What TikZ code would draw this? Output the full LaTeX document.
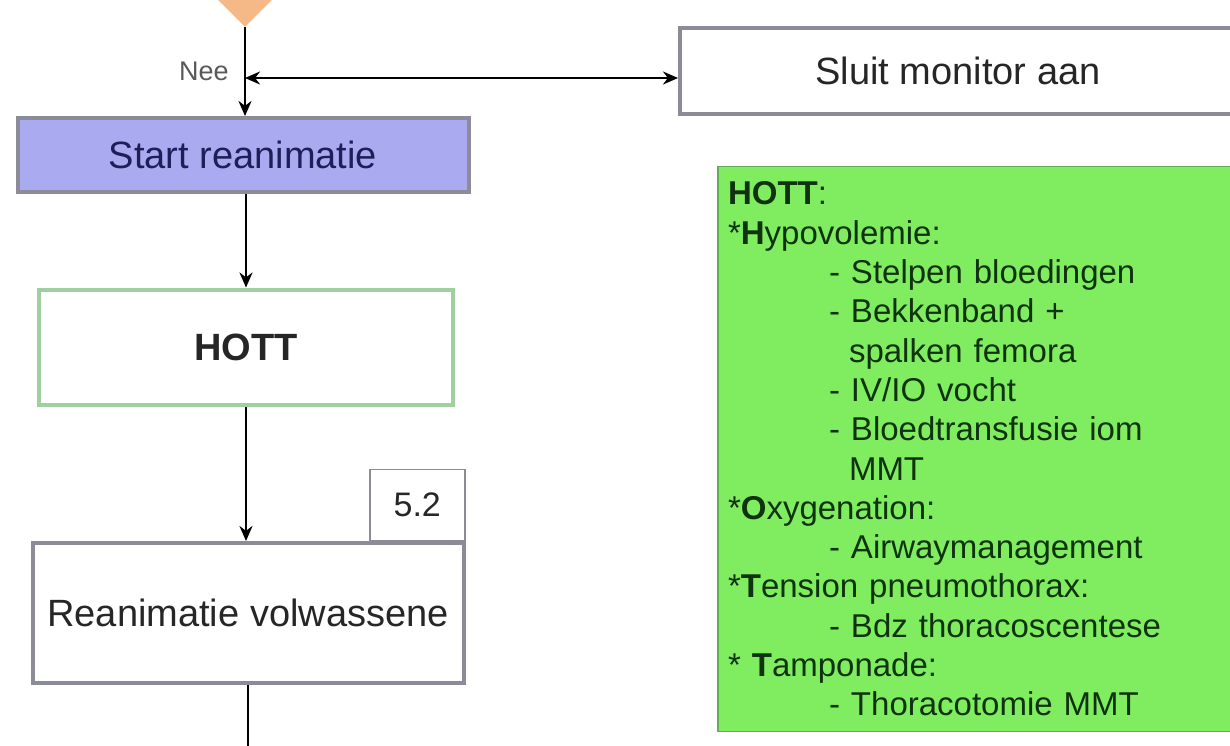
\documentclass[tikz,border=0pt]{standalone}
\usepackage{fontspec}
\setmainfont{Liberation Sans}
\usetikzlibrary{arrows.meta,shapes.geometric}
\definecolor{randgrijs}{RGB}{140,140,152}
\definecolor{lila}{RGB}{170,170,240}
\definecolor{marine}{RGB}{30,30,90}
\definecolor{lichtgroen}{RGB}{160,208,160}
\definecolor{fel}{RGB}{128,236,96}
\definecolor{felrand}{RGB}{100,170,90}
\definecolor{donkergroen}{RGB}{15,50,15}
\definecolor{oranje}{RGB}{244,185,135}
\tikzstyle{pijl} = [->,>={Stealth[length=15pt,width=13pt]},line width=2.5pt]
\tikzstyle{blok} = [draw=randgrijs,line width=4pt,fill=white,inner sep=0pt,text=black!85,font=\fontsize{38}{44}\selectfont]
\tikzstyle{lijst} = [draw=felrand,line width=1.5pt,fill=fel,text=donkergroen,align=left,inner xsep=10pt,font=\fontsize{33}{39.3}\selectfont]
\newcommand{\streep}[1]{\hspace*{101pt}- #1}
\newcommand{\verder}[1]{\hspace*{121pt}#1}

\begin{document}
\begin{tikzpicture}[x=1pt,y=-1pt]
    \useasboundingbox (0,0) rectangle (1230,745);
    \fill[white] (0,0) rectangle (1230,745);
    \clip (0,0) rectangle (1230,745);

    \node[diamond,aspect=1,minimum size=114pt,fill=oranje] at (245,-30) (vraag) {};
    \node[blok,fill=lila,text=marine,minimum width=451pt,minimum height=74pt] at (243,155) (start) {Start reanimatie};
    \node[blok,draw=lichtgroen,minimum width=414pt,minimum height=115pt] at (246,347) (hott) {\textbf{HOTT}};
    \node[blok,minimum width=431pt,minimum height=140pt] at (248,613) (reanimatie) {Reanimatie volwassene};
    \node[blok,line width=1.5pt,anchor=south east,minimum width=95pt,minimum height=71pt,font=\fontsize{34}{40}\selectfont] at (reanimatie.north east) (nummer) {5.2};
    \node[blok,minimum width=556pt,minimum height=86pt] at (958,71) (sluit) {Sluit monitor aan};
    \node[lijst,text width=502pt,minimum height=565pt] at (979,449) (hottlijst) {%
        \textbf{HOTT}:\\
        {*}\textbf{H}ypovolemie:\\
        \streep{Stelpen bloedingen}\\
        \streep{Bekkenband +}\\
        \verder{spalken femora}\\
        \streep{IV/IO vocht}\\
        \streep{Bloedtransfusie iom}\\
        \verder{MMT}\\
        {*}\textbf{O}xygenation:\\
        \streep{Airwaymanagement}\\
        {*}\textbf{T}ension pneumothorax:\\
        \streep{Bdz thoracoscentese}\\
        {*} \textbf{T}amponade:\\
        \streep{Thoracotomie MMT}};

    \coordinate (kruis) at (245,78);
    \coordinate (onder) at (248,760);
    \node[text=black!65,font=\fontsize{27}{32}\selectfont] at (204,71) (nee) {Nee};

    \draw[pijl] (vraag.south) -- (vraag.south |- start.north);
    \draw[pijl,<->] (kruis) -- (kruis -| sluit.west);
    \draw[pijl] (hott.north |- start.south) -- (hott.north);
    \draw[pijl] (hott.south) -- (hott.south |- reanimatie.north);
    \draw[line width=2.5pt] (reanimatie.south) -- (onder);
\end{tikzpicture}
\end{document}
